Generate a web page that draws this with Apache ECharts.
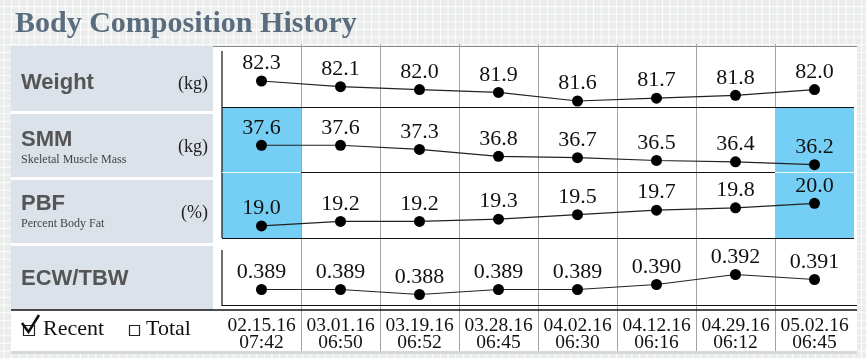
<!DOCTYPE html>
<html><head><meta charset="utf-8">
<script src="https://cdn.jsdelivr.net/npm/echarts@6/dist/echarts.min.js"></script>
<style>
html,body{margin:0;padding:0;width:866px;height:359px;overflow:hidden;}
body{background-color:#ebedec;
background-image:linear-gradient(to right, rgba(255,255,255,0.9) 1.3px, transparent 1.3px),linear-gradient(to bottom, rgba(255,255,255,0.9) 1.3px, transparent 1.3px);
background-size:7.67px 7.67px;background-position:3.5px 6px;}
#c{width:866px;height:359px;}
</style></head><body><div id="c"></div>
<script>
// ---- data ----
const dates = ['02.15.16','03.01.16','03.19.16','03.28.16','04.02.16','04.12.16','04.29.16','05.02.16'];
const times = ['07:42','06:50','06:52','06:45','06:30','06:16','06:12','06:45'];
const weight = [82.3, 82.1, 82.0, 81.9, 81.6, 81.7, 81.8, 82.0];
const smm = [37.6, 37.6, 37.3, 36.8, 36.7, 36.5, 36.4, 36.2];
const pbf = [19.0, 19.2, 19.2, 19.3, 19.5, 19.7, 19.8, 20.0];
const ecw = [0.389, 0.389, 0.388, 0.389, 0.389, 0.390, 0.392, 0.391];
const smmHighlight = [1, 0, 0, 0, 0, 0, 0, 1];
const pbfHighlight = [1, 0, 0, 0, 0, 0, 0, 1];
const rowNames = ['Weight', 'SMM', 'PBF', 'ECW/TBW'];
const rowSubs = ['', 'Skeletal Muscle Mass', 'Percent Body Fat', ''];
const rowUnits = ['(kg)', '(kg)', '(%)', ''];
const title = 'Body Composition History';

// ---- layout / style ----
const L = 222, W = 632;
const rows = [
  {top: 46, h: 61, min: 81.39, max: 83.525, dec: 1, data: weight},
  {top: 107, h: 65, min: 35.667, max: 40.367, dec: 1, data: smm},
  {top: 172, h: 66, min: 18.467, max: 21.387, dec: 1, data: pbf},
  {top: 238, h: 68, min: 0.3857, max: 0.3993, dec: 3, data: ecw}
];
const SERIF = '"Liberation Serif","Times New Roman",serif';
const SANS = '"Liberation Sans",Arial,sans-serif';
const BLUE = '#75cef4';

const grid = rows.map(r => ({left: L, top: r.top, width: W, height: r.h}));
grid.push({left: L, top: 44, width: W, height: 307});

const xAxis = grid.map((g, i) => ({
  type: 'category', gridIndex: i, data: dates, boundaryGap: true,
  axisLine: {show: false}, axisTick: {show: false},
  axisLabel: {show: false}, splitLine: {show: false}
}));
xAxis[4].axisLabel = {
  show: true, inside: true, margin: 0, interval: 0,
  fontFamily: SERIF, fontSize: 19.5, lineHeight: 17, color: '#111',
  formatter: (v, i) => v + '\n' + times[i]
};
xAxis[4].splitLine = {show: true, showMinLine: false, showMaxLine: false, lineStyle: {color: '#a3a3a3', width: 1}};

const yAxis = rows.map((r, i) => ({type: 'value', gridIndex: i, min: r.min, max: r.max, show: false}));
yAxis.push({type: 'value', gridIndex: 4, show: false});
yAxis.push({type: 'value', gridIndex: 1, min: 0, max: 1, show: false});
yAxis.push({type: 'value', gridIndex: 2, min: 0, max: 1, show: false});

const series = [];
[[smmHighlight, 1, 5], [pbfHighlight, 2, 6]].forEach(([hl, gi, yi]) => {
  series.push({
    type: 'bar', xAxisIndex: gi, yAxisIndex: yi, z: 1, silent: true,
    barWidth: '100%', data: hl.map(v => v ? 1 : null),
    itemStyle: {color: BLUE}
  });
});
rows.forEach((r, i) => {
  series.push({
    type: 'line', xAxisIndex: i, yAxisIndex: i, z: 5,
    data: r.data, symbol: 'circle', symbolSize: 11,
    itemStyle: {color: '#000'},
    lineStyle: {color: '#222', width: 1.2},
    label: {
      show: true, position: 'top', distance: 1,
      fontFamily: SERIF, fontSize: 22, color: '#111',
      formatter: p => p.value.toFixed(r.dec)
    }
  });
});

// ---- decorations ----
const g = [];
const line = (x1, y1, x2, y2, color, w, z) => g.push({type: 'line', z: z || 50, silent: true,
  shape: {x1, y1, x2, y2}, style: {stroke: color, lineWidth: w || 1}});
g.push({type: 'rect', z: -20, silent: true, shape: {x: 11, y: 46, width: 846, height: 305}, style: {fill: '#fff'}});
g.push({type: 'rect', z: -20, silent: true, shape: {x: 11, y: 351, width: 846, height: 3}, style: {fill: '#d6d9d9'}});
line(213, 46.5, 857, 46.5, '#8a8a8a', 1, -15);
const cellTops = [46, 114, 180, 246];
const cellH = [65, 63, 63, 64];
cellTops.forEach((t, i) => {
  g.push({type: 'rect', z: -15, silent: true, shape: {x: 11, y: t, width: 202, height: cellH[i]}, style: {fill: '#dbe2e9'}});
});
const nameY = [83.4, 140.4, 204.4, 279.4];
const subY = [0, 159.9, 223.9, 0];
const unitY = [84, 147, 213, 0];
rowNames.forEach((n, i) => {
  g.push({type: 'text', z: 60, silent: true, style: {text: n, x: 21, y: nameY[i], font: 'bold 22px ' + SANS, fill: '#555', verticalAlign: 'middle'}});
  if (rowSubs[i]) g.push({type: 'text', z: 60, silent: true, style: {text: rowSubs[i], x: 21, y: subY[i], font: '12px ' + SERIF, fill: '#444', verticalAlign: 'middle'}});
  if (rowUnits[i]) g.push({type: 'text', z: 60, silent: true, style: {text: rowUnits[i], x: 208, y: unitY[i], font: '18px ' + SERIF, fill: '#222', align: 'right', verticalAlign: 'middle'}});
});
g.push({type: 'text', z: 60, silent: true, style: {text: title, x: 15, y: 24.3, font: 'bold 30px ' + SERIF, fill: '#5a6d7f', verticalAlign: 'middle'}});

// borders
line(L, 51, L, 238, '#111', 1.2);
line(L, 250, L, 306, '#111', 1.2);
line(L, 107.5, 854, 107.5, '#111', 1.2);
line(301, 172.5, 775, 172.5, '#111', 1.2);
line(L, 172.5, 301, 172.5, '#eaf7fd', 1);
line(775, 172.5, 854, 172.5, '#eaf7fd', 1);
line(L, 238.5, 854, 238.5, '#111', 1.2);
line(L, 305.5, 857, 305.5, '#111', 1.2);
line(11, 310, 857, 310, '#111', 1.5);

// legend checkboxes
g.push({type: 'rect', z: 60, silent: true, shape: {x: 23.5, y: 325.5, width: 11, height: 10}, style: {fill: 'none', stroke: '#222', lineWidth: 1.2}});
g.push({type: 'polyline', z: 61, silent: true, shape: {points: [[22, 323], [28.5, 332], [39, 315]]}, style: {stroke: '#111', lineWidth: 2.6, fill: 'none'}});
g.push({type: 'text', z: 60, silent: true, style: {text: 'Recent', x: 43, y: 329.5, font: '22px ' + SERIF, fill: '#111', verticalAlign: 'middle'}});
g.push({type: 'rect', z: 60, silent: true, shape: {x: 129.5, y: 325.5, width: 10, height: 10}, style: {fill: 'none', stroke: '#222', lineWidth: 1.2}});
g.push({type: 'text', z: 60, silent: true, style: {text: 'Total', x: 146, y: 329.5, font: '22px ' + SERIF, fill: '#111', verticalAlign: 'middle'}});

const chart = echarts.init(document.getElementById('c'), null, {renderer: 'canvas'});
chart.setOption({
  animation: false,
  backgroundColor: 'transparent',
  grid, xAxis, yAxis, series,
  graphic: {elements: g}
});
</script>
</body></html>
